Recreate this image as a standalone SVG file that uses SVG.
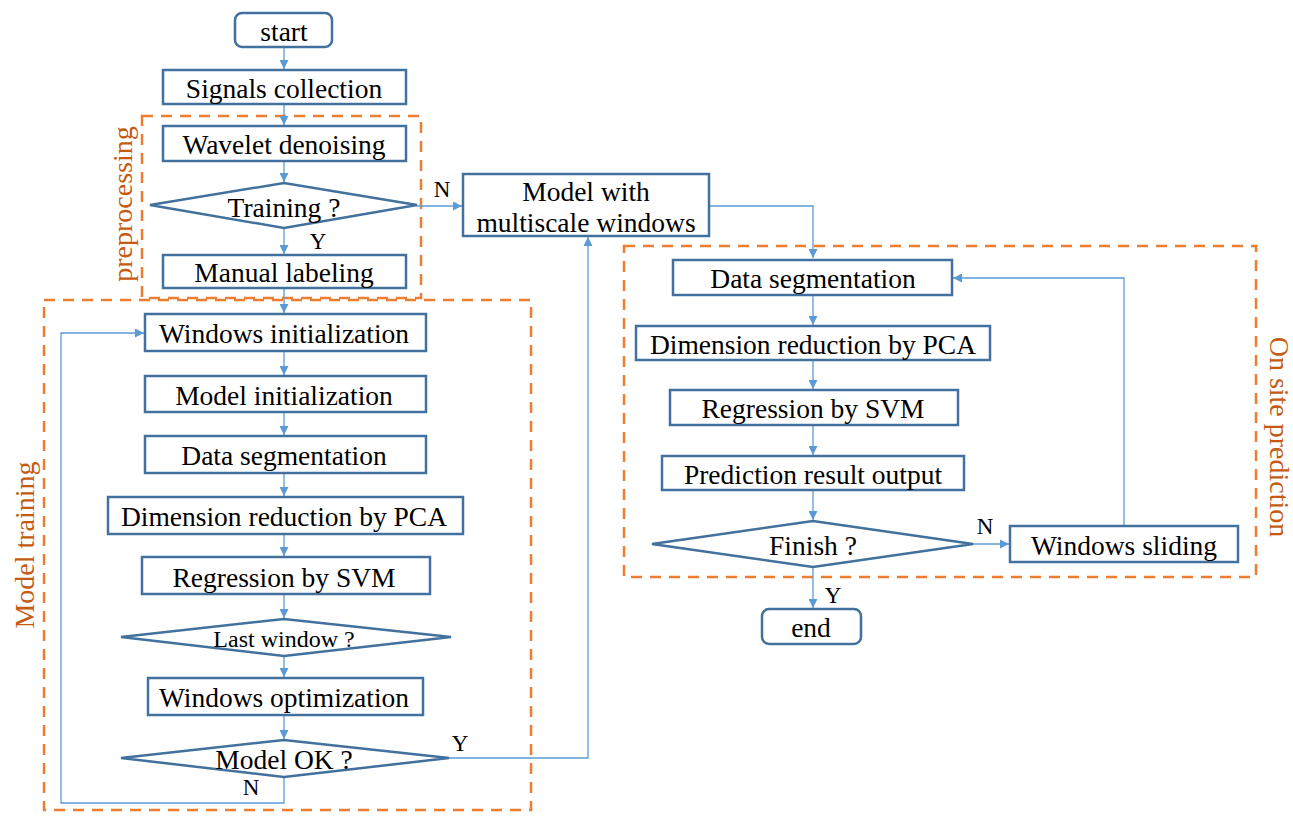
<svg xmlns="http://www.w3.org/2000/svg" width="1293" height="817" viewBox="0 0 1293 817">
<defs>
<style>
.box{fill:#fff;stroke:#41719C;stroke-width:2.5}
.dec{fill:#fff;stroke:#41719C;stroke-width:2.5}
.grp{fill:none;stroke:#ED7D31;stroke-width:2.5;stroke-dasharray:11 8}
.lbl{font-family:"Liberation Serif","Times New Roman",serif;font-size:27.5px;fill:#000;text-anchor:middle;dominant-baseline:central}
.sm{font-family:"Liberation Serif","Times New Roman",serif;font-size:24px;fill:#000;text-anchor:middle;dominant-baseline:central}
.yn{font-family:"Liberation Serif","Times New Roman",serif;font-size:23px;fill:#000;text-anchor:middle;dominant-baseline:central}
.glbl{font-family:"Liberation Serif","Times New Roman",serif;font-size:28px;fill:#C55A11;text-anchor:middle;dominant-baseline:central}
.con{fill:none;stroke:#5B9BD5;stroke-width:1.3}
</style>
<marker id="ah" viewBox="0 0 10 10" refX="10" refY="5" markerWidth="9" markerHeight="9" markerUnits="userSpaceOnUse" orient="auto">
<path d="M0,0 L10,5 L0,10 z" fill="#5B9BD5"/>
</marker>
</defs>
<rect width="1293" height="817" fill="#fff"/>

<g id="groups">
<rect class="grp" x="142" y="116" width="279" height="182"/>
<rect class="grp" x="44" y="300" width="487" height="510"/>
<rect class="grp" x="624" y="246" width="632" height="331"/>
<text class="glbl" transform="translate(122,204) rotate(-90)">preprocessing</text>
<text class="glbl" transform="translate(24,545) rotate(-90)">Model training</text>
<text class="glbl" transform="translate(1279,437) rotate(90)">On site prediction</text>
</g>

<g id="connectors">
<line class="con" x1="284" y1="47" x2="284" y2="69" marker-end="url(#ah)"/>
<line class="con" x1="284" y1="104" x2="284" y2="125" marker-end="url(#ah)"/>
<line class="con" x1="284" y1="161" x2="284" y2="182" marker-end="url(#ah)"/>
<line class="con" x1="284" y1="228" x2="284" y2="254" marker-end="url(#ah)"/>
<line class="con" x1="284" y1="288" x2="284" y2="313" marker-end="url(#ah)"/>
<line class="con" x1="284" y1="351" x2="284" y2="375" marker-end="url(#ah)"/>
<line class="con" x1="284" y1="412" x2="284" y2="435" marker-end="url(#ah)"/>
<line class="con" x1="284" y1="473" x2="284" y2="496" marker-end="url(#ah)"/>
<line class="con" x1="284" y1="534" x2="284" y2="556" marker-end="url(#ah)"/>
<line class="con" x1="284" y1="594" x2="284" y2="618" marker-end="url(#ah)"/>
<line class="con" x1="284" y1="656" x2="284" y2="677" marker-end="url(#ah)"/>
<line class="con" x1="284" y1="715" x2="284" y2="739" marker-end="url(#ah)"/>
<polyline class="con" points="284,777 284,803 61,803 61,333 144,333" marker-end="url(#ah)"/>
<polyline class="con" points="449,758 588,758 588,237" marker-end="url(#ah)"/>
<line class="con" x1="417" y1="206" x2="462" y2="206" marker-end="url(#ah)"/>
<polyline class="con" points="710,206 813,206 813,258" marker-end="url(#ah)"/>
<line class="con" x1="813" y1="296" x2="813" y2="325" marker-end="url(#ah)"/>
<line class="con" x1="813" y1="361" x2="813" y2="389" marker-end="url(#ah)"/>
<line class="con" x1="813" y1="426" x2="813" y2="455" marker-end="url(#ah)"/>
<line class="con" x1="813" y1="491" x2="813" y2="520" marker-end="url(#ah)"/>
<line class="con" x1="813" y1="567" x2="813" y2="608" marker-end="url(#ah)"/>
<line class="con" x1="973" y1="544" x2="1009" y2="544" marker-end="url(#ah)"/>
<polyline class="con" points="1124,525 1124,278 953,278" marker-end="url(#ah)"/>
<text class="yn" x="318" y="241">Y</text>
<text class="yn" x="442" y="189">N</text>
<text class="yn" x="460" y="743">Y</text>
<text class="yn" x="251" y="787">N</text>
<text class="yn" x="985" y="526">N</text>
<text class="yn" x="833" y="595">Y</text>
</g>

<g id="start"><rect class="box" x="235" y="13" width="97" height="34" rx="7"/><text class="lbl" x="284" y="31">start</text></g>
<g id="signals"><rect class="box" x="163" y="70" width="243" height="34"/><text class="lbl" x="284" y="88">Signals collection</text></g>
<g id="wavelet"><rect class="box" x="163" y="126" width="243" height="35"/><text class="lbl" x="284" y="144">Wavelet denoising</text></g>
<g id="training"><polygon class="dec" points="150,205 284,183 417,205 284,228"/><text class="lbl" x="284" y="207">Training ?</text></g>
<g id="manual"><rect class="box" x="163" y="255" width="243" height="33"/><text class="lbl" x="284" y="272">Manual labeling</text></g>
<g id="winit"><rect class="box" x="145" y="314" width="281" height="37"/><text class="lbl" x="284" y="333">Windows initialization</text></g>
<g id="minit"><rect class="box" x="145" y="376" width="281" height="36"/><text class="lbl" x="284" y="395">Model initialization</text></g>
<g id="dseg1"><rect class="box" x="145" y="436" width="281" height="37"/><text class="lbl" x="284" y="455">Data segmentation</text></g>
<g id="dim1"><rect class="box" x="108" y="497" width="355" height="37"/><text class="lbl" x="284" y="516">Dimension reduction by PCA</text></g>
<g id="reg1"><rect class="box" x="142" y="557" width="288" height="37"/><text class="lbl" x="284" y="577">Regression by SVM</text></g>
<g id="lastwin"><polygon class="dec" points="121,637 284,619 451,637 284,656"/><text class="sm" x="284" y="639">Last window ?</text></g>
<g id="wopt"><rect class="box" x="148" y="678" width="275" height="37"/><text class="lbl" x="284" y="697">Windows optimization</text></g>
<g id="modelok"><polygon class="dec" points="121,758 284,740 449,758 284,777"/><text class="lbl" x="284" y="759">Model OK ?</text></g>
<g id="multiscale"><rect class="box" x="463" y="174" width="246" height="62"/><text class="lbl" x="586" y="191">Model with</text><text class="lbl" x="586" y="222">multiscale windows</text></g>
<g id="dseg2"><rect class="box" x="673" y="260" width="279" height="35"/><text class="lbl" x="813" y="278">Data segmentation</text></g>
<g id="dim2"><rect class="box" x="636" y="326" width="354" height="34"/><text class="lbl" x="813" y="344">Dimension reduction by PCA</text></g>
<g id="reg2"><rect class="box" x="670" y="390" width="288" height="35"/><text class="lbl" x="813" y="408">Regression by SVM</text></g>
<g id="pred"><rect class="box" x="662" y="456" width="302" height="34"/><text class="lbl" x="813" y="474">Prediction result output</text></g>
<g id="finish"><polygon class="dec" points="652,544 813,521 973,544 813,567"/><text class="lbl" x="813" y="545">Finish ?</text></g>
<g id="wslide"><rect class="box" x="1010" y="526" width="228" height="36"/><text class="lbl" x="1124" y="545">Windows sliding</text></g>
<g id="end"><rect class="box" x="762" y="609" width="99" height="35" rx="7"/><text class="lbl" x="811" y="627">end</text></g>
</svg>
